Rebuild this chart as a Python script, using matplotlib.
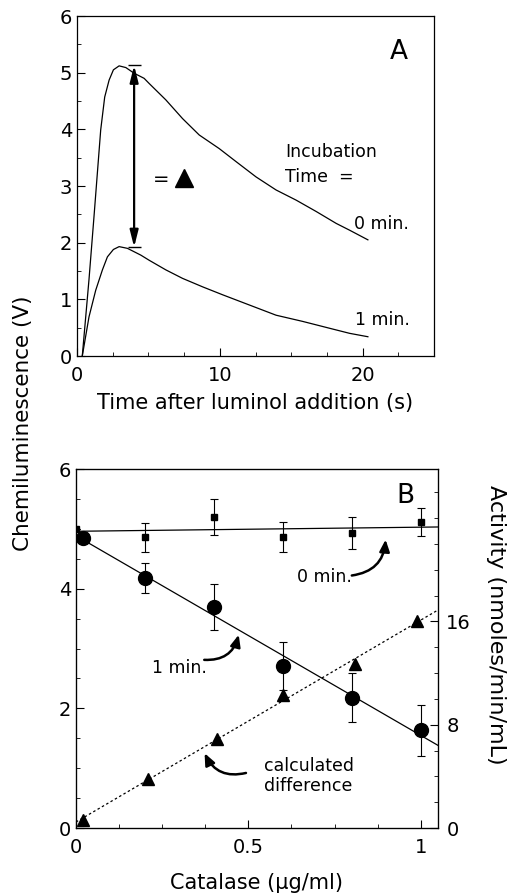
import numpy as np
import matplotlib
matplotlib.use("Agg")
import matplotlib.pyplot as plt
from matplotlib.ticker import MultipleLocator, FixedLocator

plt.rcParams['font.family'] = ['DejaVu Sans']

# panel A: chemiluminescence traces
t_0min = [0.37, 0.84, 1.19, 1.66, 1.94, 2.25, 2.55, 2.95, 3.42, 4.0, 4.7, 5.05, 6.22, 7.39,
          8.56, 9.96, 11.14, 12.54, 13.94, 15.35, 16.75, 18.15, 19.09, 20.37]
v_0min = [0.0, 1.35, 2.46, 3.99, 4.57, 4.87, 5.05, 5.12, 5.09, 4.99, 4.9, 4.81, 4.52, 4.19,
          3.90, 3.66, 3.43, 3.16, 2.93, 2.75, 2.55, 2.34, 2.22, 2.05]
t_1min = [0.37, 0.84, 1.31, 1.78, 2.13, 2.55, 2.95, 3.53, 4.47, 5.05, 6.22, 7.39, 8.8, 10.2,
          12.07, 13.94, 15.81, 17.68, 19.09, 20.37]
v_1min = [0.0, 0.69, 1.16, 1.52, 1.75, 1.88, 1.93, 1.90, 1.78, 1.69, 1.52, 1.37, 1.22, 1.08,
          0.90, 0.72, 0.61, 0.49, 0.40, 0.34]
delta_x = 4.0
delta_top = 5.13
delta_bot = 1.92

# panel B
cat_sq = [0.0, 0.2, 0.4, 0.6, 0.8, 1.0]
chem_0min = [4.99, 4.86, 5.20, 4.87, 4.93, 5.11]
err_0min = [0.0, 0.24, 0.30, 0.25, 0.27, 0.23]

cat_ci = [0.02, 0.2, 0.4, 0.6, 0.8, 1.0]
chem_1min = [4.84, 4.18, 3.69, 2.71, 2.18, 1.63]
err_1min = [0.0, 0.25, 0.38, 0.40, 0.41, 0.43]

cat_tri = [0.02, 0.21, 0.41, 0.6, 0.81, 0.99]
activity = [0.62, 3.8, 6.9, 10.3, 12.7, 16.0]

fig = plt.figure(figsize=(5.09, 8.96), dpi=100)
W, H = 509.0, 896.0
axA = fig.add_axes([77 / W, 1 - 356 / H, (434 - 77) / W, (356 - 16) / H])
axB = fig.add_axes([76 / W, 1 - 828 / H, (438 - 76) / W, (828 - 469) / H])

lw = 0.9
fs_tick = 14
fs_lab = 15
fs_in = 12.5

# ---- panel A
axA.plot(t_0min, v_0min, color='black', lw=lw)
axA.plot(t_1min, v_1min, color='black', lw=lw)
axA.annotate('', xy=(delta_x, delta_top), xytext=(delta_x, delta_bot),
             arrowprops=dict(arrowstyle='<|-|>,head_length=1.0,head_width=0.25',
                             color='black', lw=1.6, shrinkA=0, shrinkB=0))
axA.hlines([delta_top, delta_bot], delta_x - 0.45, delta_x + 0.45, color='black', lw=1.0)
axA.text(5.3, 3.12, '=', fontsize=14, va='center', ha='left')
axA.plot([7.5], [3.14], marker='^', color='black', ms=13, ls='none')
axA.text(14.6, 3.6, 'Incubation', fontsize=fs_in, va='center', ha='left')
axA.text(14.6, 3.16, 'Time  =', fontsize=fs_in, va='center', ha='left')
axA.text(19.37, 2.33, '0 min.', fontsize=fs_in, va='center', ha='left')
axA.text(19.5, 0.64, '1 min.', fontsize=fs_in, va='center', ha='left')
axA.text(22.5, 5.36, 'A', fontsize=19, va='center', ha='center')

axA.set_xlim(0, 25)
axA.set_ylim(0, 6)
axA.xaxis.set_major_locator(FixedLocator([0, 10, 20]))
axA.xaxis.set_minor_locator(MultipleLocator(2.5))
axA.yaxis.set_major_locator(MultipleLocator(1))
axA.yaxis.set_minor_locator(MultipleLocator(0.5))
axA.set_xlabel('Time after luminol addition (s)', fontsize=fs_lab, labelpad=6)

# ---- panel B
axB.errorbar(cat_sq, chem_0min, yerr=err_0min, fmt='s', color='black', ms=5,
             elinewidth=0.8, capsize=3, capthick=0.8, zorder=3)
axB.errorbar(cat_ci, chem_1min, yerr=err_1min, fmt='o', color='black', ms=10,
             elinewidth=0.8, capsize=3, capthick=0.8, zorder=3)
xfit = np.array([0.0, 1.05])
p0 = np.polyfit(cat_sq, chem_0min, 1)
p1 = np.polyfit(cat_ci, chem_1min, 1)
axB.plot(xfit, np.polyval(p0, xfit), color='black', lw=lw)
axB.plot(xfit, np.polyval(p1, xfit), color='black', lw=lw)

axR = axB.twinx()
axR.plot(cat_tri, activity, marker='^', color='black', ms=8, ls='none', zorder=3)
p2 = np.polyfit(cat_tri, activity, 1)
axR.plot(xfit, np.polyval(p2, xfit), color='black', lw=lw, ls=(0, (2, 2)))
axR.set_ylim(0, 27.8)
axR.yaxis.set_major_locator(FixedLocator([0, 8, 16]))
axR.yaxis.set_minor_locator(MultipleLocator(2))
axR.tick_params(axis='y', which='both', direction='in', labelsize=fs_tick, pad=6)
axR.tick_params(axis='y', which='major', length=6)
axR.tick_params(axis='y', which='minor', length=3)

axB.text(0.955, 5.55, 'B', fontsize=19, va='center', ha='center')
axB.text(0.64, 4.2, '0 min.', fontsize=fs_in, va='center', ha='left')
axB.annotate('', xy=(0.898, 4.82), xytext=(0.80, 4.22),
             arrowprops=dict(arrowstyle='-|>,head_length=0.7,head_width=0.3',
                             connectionstyle='arc3,rad=0.4', color='black', lw=1.8,
                             shrinkA=0, shrinkB=0))
axB.text(0.22, 2.67, '1 min.', fontsize=fs_in, va='center', ha='left')
axB.annotate('', xy=(0.472, 3.23), xytext=(0.372, 2.81),
             arrowprops=dict(arrowstyle='-|>,head_length=0.7,head_width=0.3',
                             connectionstyle='arc3,rad=0.4', color='black', lw=1.8,
                             shrinkA=0, shrinkB=0))
axB.text(0.546, 0.87, 'calculated\ndifference', fontsize=fs_in, va='center', ha='left',
         linespacing=1.1)
axB.annotate('', xy=(0.373, 1.25), xytext=(0.493, 0.92),
             arrowprops=dict(arrowstyle='-|>,head_length=0.7,head_width=0.3',
                             connectionstyle='arc3,rad=-0.4', color='black', lw=1.8,
                             shrinkA=0, shrinkB=0))

axB.set_xlim(0, 1.05)
axB.set_ylim(0, 6)
axB.xaxis.set_major_locator(FixedLocator([0, 0.5, 1]))
axB.xaxis.set_minor_locator(MultipleLocator(0.125))
axB.yaxis.set_major_locator(MultipleLocator(2))
axB.yaxis.set_minor_locator(MultipleLocator(0.5))
axB.set_xticklabels(['0', '0.5', '1'])
axB.set_xlabel('Catalase (\u03bcg/ml)', fontsize=fs_lab, labelpad=12)

for ax in (axA, axB):
    ax.tick_params(which='both', direction='in', top=False, right=False, labelsize=fs_tick)
    ax.tick_params(which='major', length=6)
    ax.tick_params(which='minor', length=3)
    ax.tick_params(axis='x', pad=7)
    for s in ax.spines.values():
        s.set_linewidth(0.9)

fig.text(23 / W, 1 - 423 / H, 'Chemiluminescence (V)', rotation=90, fontsize=15.5,
         va='center', ha='center')
fig.text(496 / W, 1 - 625 / H, 'Activity (nmoles/min/mL)', rotation=-90, fontsize=16,
         va='center', ha='center')

fig.savefig('out.png', dpi=100)
